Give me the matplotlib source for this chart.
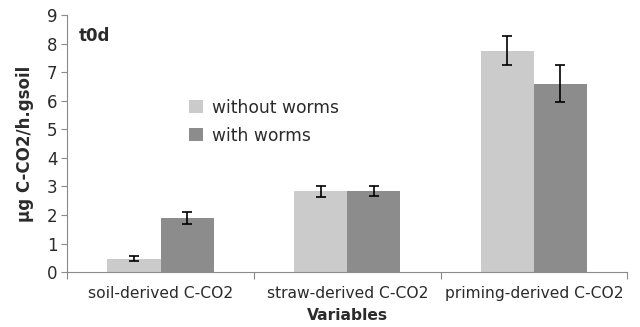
import matplotlib
matplotlib.use("Agg")
import matplotlib.pyplot as plt
import numpy as np

categories = ["soil-derived C-CO2", "straw-derived C-CO2", "priming-derived C-CO2"]
without_worms = [0.47, 2.83, 7.75]
without_err = [0.10, 0.19, 0.50]
with_worms = [1.90, 2.83, 6.60]
with_err = [0.20, 0.17, 0.65]

LIGHT = "#cbcbcb"
DARK = "#8c8c8c"
TEXT = "#2b2b2b"
AXIS = "#8a8a8a"

fig = plt.figure(figsize=(6.4, 3.27), dpi=100)
ax = fig.add_axes([0.105, 0.168, 0.875, 0.786])

x = np.arange(len(categories))
w = 0.285
ax.bar(x - w / 2, without_worms, w, color=LIGHT, label="without worms",
       yerr=without_err, capsize=3.5, error_kw=dict(ecolor="black", elinewidth=1.2, capthick=1.2))
ax.bar(x + w / 2, with_worms, w, color=DARK, label="with worms",
       yerr=with_err, capsize=3.5, error_kw=dict(ecolor="black", elinewidth=1.2, capthick=1.2))

ax.set_xlim(-0.5, 2.5)
ax.set_ylim(0, 9)
ax.set_yticks(range(10))

# category labels between boundary ticks
ax.set_xticks([-0.5, 0.5, 1.5, 2.5])
ax.set_xticklabels([])
ax.set_xticks(x, minor=True)
ax.set_xticklabels(categories, minor=True, fontsize=11.2, color=TEXT)
ax.tick_params(axis="x", which="minor", length=0, pad=10)
ax.tick_params(axis="x", which="major", length=5, color=AXIS)
ax.tick_params(axis="y", length=4, color=AXIS, labelsize=12, labelcolor=TEXT, pad=3)

for s in ["top", "right"]:
    ax.spines[s].set_visible(False)
ax.spines["left"].set_color(AXIS)
ax.spines["bottom"].set_color(AXIS)

ax.set_xlabel("Variables", fontsize=11.2, fontweight="bold", color=TEXT, labelpad=5)
ax.set_ylabel("\u03bcg C-CO2/h.gsoil", fontsize=12, fontweight="bold", color=TEXT, labelpad=9)

ax.text(0.02, 0.92, "t0d", transform=ax.transAxes, fontsize=12, fontweight="bold",
        color=TEXT, va="center")

ax.legend(loc="upper left", bbox_to_anchor=(0.19, 0.735), frameon=False, fontsize=12.3,
          handlelength=0.8, handleheight=0.8, labelspacing=0.6, handletextpad=0.55,
          labelcolor=TEXT)

fig.savefig("out.png", dpi=100)
